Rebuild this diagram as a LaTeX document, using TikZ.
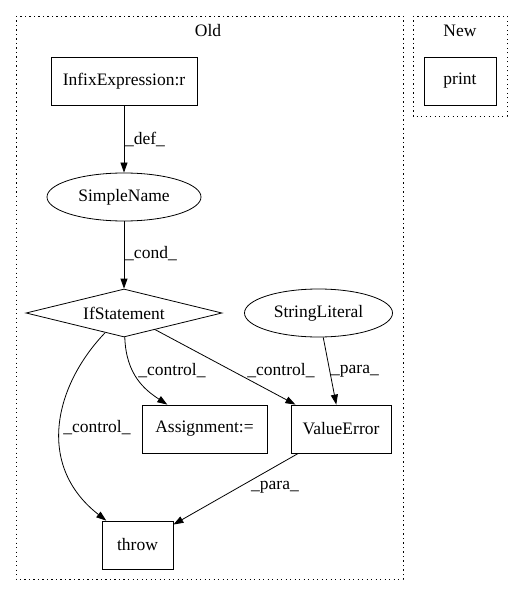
\documentclass[tikz,border=0pt]{standalone}
\usepackage{fontspec}
\setmainfont{Liberation Serif}
\usepackage{tikz}
\usetikzlibrary{shapes.geometric, arrows.meta}

\begin{document}
\begin{tikzpicture}[x=1pt, y=-1pt,
    every node/.style={font=\fontsize{17.5}{20}\selectfont},
    box/.style={draw, line width=0.8pt, inner sep=0pt, minimum height=48pt},
    oval/.style={draw, line width=0.8pt, ellipse, inner sep=0pt, minimum height=48pt},
    cond/.style={draw, line width=0.8pt, diamond, aspect=4, inner sep=0pt, minimum width=196pt, minimum height=48pt},
    edge/.style={line width=0.8pt, -{Triangle[length=10pt, width=7pt]}},
    cluster/.style={line width=0.8pt, dash pattern=on 1.2pt off 3.3pt}]
  \useasboundingbox (0, 0) rectangle (527, 596);

  % clusters
    \draw[cluster] (16, 16) rectangle (403, 579);
    \node (old) at (208, 31) {Old};
    \draw[cluster] (413, 16) rectangle (507, 116);
    \node (new) at (460, 31) {New};

  % nodes
    \node[box, minimum width=146pt] at (124, 81) (infix) {InfixExpression:r};
    \node[oval, minimum width=154pt] at (124, 197) (simple) {SimpleName};
    \node[cond] at (124, 313) (ifst) {IfStatement};
    \node[oval, minimum width=148pt] at (318.5, 313) (strlit) {StringLiteral};
    \node[box, minimum width=125pt] at (204.5, 429) (assign) {Assignment:=};
    \node[box, minimum width=100pt] at (341, 429) (valerr) {ValueError};
    \node[box, minimum width=71pt] at (137.5, 545) (throw) {throw};
    \node[box, minimum width=72pt] at (460, 81) (print) {print};

  % edges
    \draw[edge] (infix) -- (simple);
    \node (ldef) at (145, 139) {\_def\_};

    \draw[edge] (simple) -- (ifst);
    \node (lcond) at (151, 254) {\_cond\_};

    \draw[edge] (ifst) .. controls (126, 375) and (145, 390) .. (assign);
    \node (lctrla) at (172, 371) {\_control\_};

    \draw[edge] (ifst) -- (valerr);
    \node (lctrlv) at (281, 371) {\_control\_};

    \draw[edge] (strlit) -- (valerr);
    \node (lparas) at (355, 371) {\_para\_};

    \draw[edge] (ifst) .. controls (55, 385) and (35, 465) .. (throw);
    \node (lctrlt) at (97, 428) {\_control\_};

    \draw[edge] (valerr) -- (throw);
    \node (lparat) at (275, 487) {\_para\_};
\end{tikzpicture}
\end{document}
